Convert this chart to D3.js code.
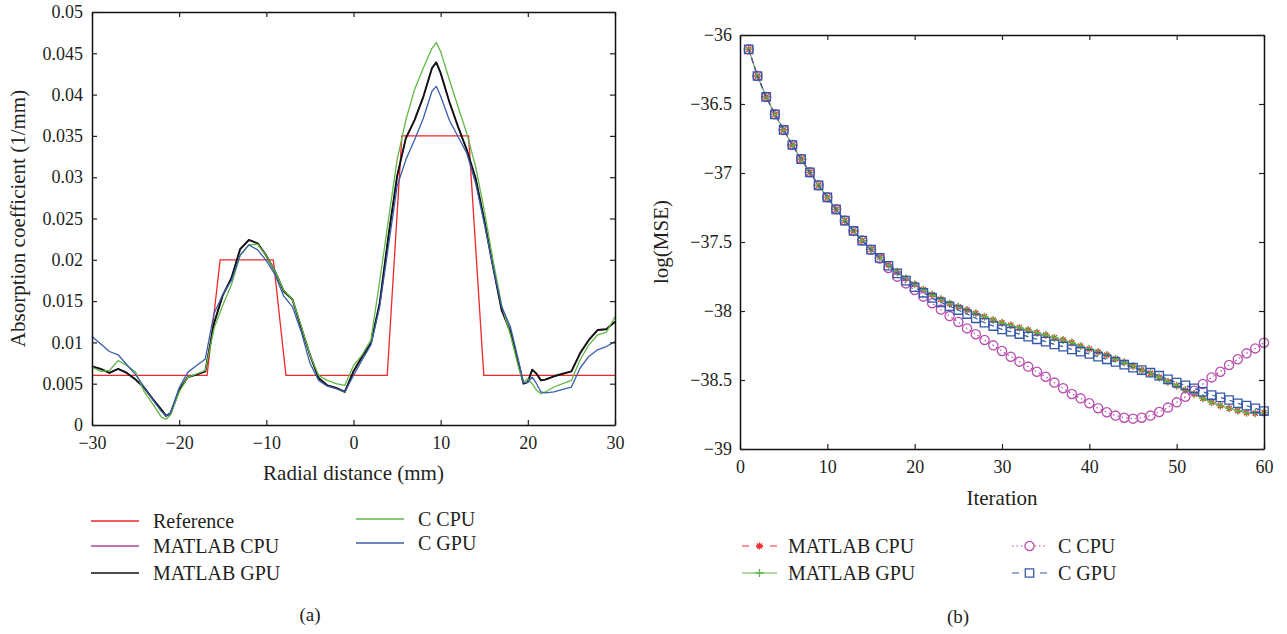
<!DOCTYPE html>
<html>
<head>
<meta charset="utf-8">
<script src="https://cdn.jsdelivr.net/npm/d3@7"></script>
<style>
    body { margin: 0; background: #fff; }
    svg text { font-family: "Liberation Serif", "Times New Roman", serif; fill: #231f20; }
</style>
</head>
<body>
<div id="figure"></div>
<script>
// ---- (a) absorption profile data ----
const radialMm = [-30, -29, -28, -27, -26, -25, -24, -23, -22, -21.5, -21, -20, -19, -18, -17, -16, -15, -14, -13, -12,
    -11, -10, -9, -8, -7, -6, -5, -4, -3, -2, -1, 0, 1, 2, 3, 4, 5, 6, 7, 8, 9, 9.5, 10, 11, 12, 13, 14, 15, 16, 17, 18,
    19, 19.5, 20, 20.5, 21, 21.5, 22, 23, 24, 25, 26, 27, 28, 29, 30];

const referenceX = [-30, -16.8, -15.3, -9.2, -7.75, 3.87, 5.55, 13.2, 14.95, 30];
const referenceY = [0.006, 0.006, 0.02, 0.02, 0.006, 0.006, 0.035, 0.035, 0.006, 0.006];

const matlabCpuA = [.0071, .0068, .0063, .0068, .0063, .0055, .0045, .0031, .0018, .0011, .0014, .0042, .0058, .0061, .0065,
    .0123, .0157, .0178, .0213, .0224, .0220, .0205, .0186, .0162, .0152, .0118, .0085, .0057, .0048, .0045, .0040, .0065,
    .0083, .0099, .0147, .0228, .0301, .0347, .0369, .0397, .0432, .0439, .0426, .0391, .0361, .0333, .0299, .0248, .0192,
    .0139, .0113, .0071, .0050, .0052, .0067, .0062, .0054, .0055, .0059, .0062, .0065, .0087, .0103, .0115, .0116, .0125];

const matlabGpuA = [.0071, .0068, .0063, .0068, .0063, .0055, .0045, .0031, .0018, .0011, .0014, .0042, .0058, .0061, .0065,
    .0123, .0157, .0178, .0213, .0224, .0220, .0205, .0186, .0162, .0152, .0118, .0085, .0057, .0048, .0045, .0040, .0065,
    .0083, .0099, .0147, .0228, .0301, .0347, .0369, .0397, .0432, .0439, .0426, .0391, .0361, .0333, .0299, .0248, .0192,
    .0139, .0113, .0071, .0050, .0052, .0067, .0062, .0054, .0055, .0059, .0062, .0065, .0087, .0103, .0115, .0116, .0125];

const cCpuA = [.0070, .0065, .0066, .0078, .0072, .0064, .0040, .0025, .0009, .0007, .0012, .0040, .0058, .0062, .0066,
    .0117, .0145, .0170, .0205, .0218, .0219, .0205, .0186, .0163, .0152, .0120, .0085, .0060, .0054, .0050, .0048, .0072,
    .0085, .0103, .0174, .0248, .0321, .0369, .0406, .0432, .0456, .0463, .0452, .0418, .0385, .0353, .0313, .0260, .0200,
    .0145, .0109, .0067, .0052, .0056, .0050, .0042, .0038, .0040, .0046, .0050, .0054, .0079, .0097, .0109, .0112, .0131];

const cGpuA = [.0107, .0098, .0089, .0085, .0073, .0061, .0046, .0030, .0016, .0011, .0014, .0045, .0064, .0072, .0080,
    .0135, .0158, .0175, .0206, .0218, .0212, .0199, .0182, .0156, .0143, .0113, .0075, .0054, .0047, .0044, .0040, .0060,
    .0079, .0097, .0143, .0216, .0289, .0321, .0345, .0371, .0404, .0410, .0398, .0369, .0349, .0329, .0293, .0244, .0192,
    .0143, .0119, .0075, .0051, .0052, .0058, .0050, .0040, .0039, .0040, .0043, .0046, .0069, .0083, .0091, .0095, .0101];

const radialTicks = [-30, -20, -10, 0, 10, 20, 30];
const absorptionTicks = [0, 0.005, 0.01, 0.015, 0.02, 0.025, 0.03, 0.035, 0.04, 0.045, 0.05];

// ---- (b) convergence data ----
const iterations = [1, 2, 3, 4, 5, 6, 7, 8, 9, 10, 11, 12, 13, 14, 15, 16, 17, 18, 19, 20, 21, 22, 23, 24, 25, 26, 27, 28, 29, 30,
    31, 32, 33, 34, 35, 36, 37, 38, 39, 40, 41, 42, 43, 44, 45, 46, 47, 48, 49, 50, 51, 52, 53, 54, 55, 56, 57, 58, 59, 60];

const matlabCpuB = [-36.104, -36.297, -36.449, -36.575, -36.688, -36.797, -36.899, -36.995, -37.089, -37.176, -37.263, -37.345,
    -37.420, -37.490, -37.553, -37.611, -37.665, -37.717, -37.764, -37.806, -37.845, -37.881, -37.915, -37.946, -37.969,
    -37.993, -38.017, -38.041, -38.065, -38.085, -38.104, -38.121, -38.138, -38.157, -38.174, -38.193, -38.210, -38.229,
    -38.254, -38.275, -38.297, -38.319, -38.346, -38.372, -38.399, -38.428, -38.452, -38.481, -38.512, -38.541, -38.573,
    -38.601, -38.633, -38.662, -38.686, -38.705, -38.722, -38.737, -38.741, -38.737];

const matlabGpuB = [-36.104, -36.297, -36.449, -36.575, -36.688, -36.797, -36.899, -36.995, -37.089, -37.176, -37.263, -37.345,
    -37.420, -37.490, -37.553, -37.611, -37.665, -37.717, -37.764, -37.806, -37.845, -37.881, -37.915, -37.946, -37.969,
    -37.993, -38.017, -38.041, -38.065, -38.085, -38.104, -38.121, -38.138, -38.157, -38.174, -38.193, -38.210, -38.229,
    -38.254, -38.275, -38.297, -38.319, -38.346, -38.372, -38.399, -38.428, -38.452, -38.481, -38.512, -38.541, -38.573,
    -38.601, -38.633, -38.662, -38.686, -38.705, -38.722, -38.737, -38.741, -38.737];

const cCpuB = [-36.104, -36.297, -36.449, -36.575, -36.688, -36.797, -36.899, -36.995, -37.089, -37.176, -37.263, -37.345,
    -37.420, -37.490, -37.557, -37.620, -37.688, -37.751, -37.800, -37.848, -37.896, -37.944, -37.990, -38.037, -38.080,
    -38.126, -38.169, -38.210, -38.249, -38.290, -38.331, -38.367, -38.403, -38.440, -38.476, -38.519, -38.560, -38.601,
    -38.633, -38.669, -38.705, -38.734, -38.758, -38.773, -38.780, -38.773, -38.758, -38.732, -38.700, -38.662, -38.621,
    -38.577, -38.529, -38.481, -38.440, -38.391, -38.350, -38.307, -38.271, -38.230];

const cGpuB = [-36.104, -36.297, -36.449, -36.575, -36.688, -36.797, -36.899, -36.995, -37.089, -37.176, -37.263, -37.345,
    -37.420, -37.490, -37.555, -37.615, -37.672, -37.727, -37.780, -37.828, -37.868, -37.905, -37.937, -37.966, -37.993,
    -38.022, -38.053, -38.085, -38.109, -38.133, -38.150, -38.167, -38.186, -38.205, -38.222, -38.242, -38.258, -38.278,
    -38.295, -38.311, -38.331, -38.350, -38.369, -38.389, -38.410, -38.428, -38.447, -38.469, -38.495, -38.519, -38.539,
    -38.560, -38.585, -38.609, -38.626, -38.645, -38.669, -38.686, -38.705, -38.725];

const iterationTicks = [0, 10, 20, 30, 40, 50, 60];
const mseTicks = [-39, -38.5, -38, -37.5, -37, -36.5, -36];

const minus = s => String(s).replace("-", "\u2212");

const svg = d3.select("#figure")
    .append("svg")
    .attr("width", 1287)
    .attr("height", 634);

// Draws a MATLAB style box: labelled bottom/left axes, bare top/right axes, ticks pointing inwards
function drawFrame(x, y, xTicks, yTicks, fmtX, fmtY, padX, padY) {
    const [x0, x1] = x.range();
    const [yBottom, yTop] = y.range();

    const axes = [
        [d3.axisBottom(x).tickValues(xTicks).tickFormat(fmtX).tickPadding(padX), `translate(0,${yBottom})`],
        [d3.axisTop(x).tickValues(xTicks).tickFormat(""), `translate(0,${yTop})`],
        [d3.axisLeft(y).tickValues(yTicks).tickFormat(fmtY).tickPadding(padY), `translate(${x0},0)`],
        [d3.axisRight(y).tickValues(yTicks).tickFormat(""), `translate(${x1},0)`]
    ];
    axes.forEach(([axis, tr]) => {
        const g = svg.append("g")
            .attr("transform", tr)
            .call(axis.tickSizeInner(-5).tickSizeOuter(0));
        g.select(".domain").attr("stroke", "#111").attr("stroke-width", 1.5);
        g.selectAll(".tick line").attr("stroke", "#222").attr("stroke-width", 1.2);
        g.selectAll("text").style("font-size", "18px");
    });
}

// Panel (a)
function renderProfileChart() {
    const x = d3.scaleLinear().domain([-30, 30]).range([92, 615]);
    const y = d3.scaleLinear().domain([0, 0.05]).range([425, 12]);

    const line = d3.line()
        .x((d, i) => x(radialMm[i]))
        .y(d => y(d));

    const refLine = d3.line()
        .x((d, i) => x(referenceX[i]))
        .y(d => y(d));

    svg.append("path")
        .attr("d", refLine(referenceY))
        .attr("fill", "none")
        .attr("stroke", "#f0262b")
        .attr("stroke-width", 1.3);

    const series = [
        { values: matlabCpuA, color: "#a9489f", width: 1.3 },
        { values: matlabGpuA, color: "#111111", width: 1.9 },
        { values: cCpuA, color: "#62b846", width: 1.3 },
        { values: cGpuA, color: "#3a5daa", width: 1.3 }
    ];

    series.forEach(s => {
        svg.append("path")
            .attr("d", line(s.values))
            .attr("fill", "none")
            .attr("stroke", s.color)
            .attr("stroke-width", s.width)
            .attr("stroke-linejoin", "round");
    });

    drawFrame(x, y, radialTicks, absorptionTicks, minus, d => d === 0 ? "0" : String(+d.toFixed(3)), 11, 9);

    svg.append("text")
        .attr("x", 353.5)
        .attr("y", 480)
        .attr("text-anchor", "middle")
        .style("font-size", "21px")
        .text("Radial distance (mm)");

    svg.append("text")
        .attr("transform", "translate(18,218.5) rotate(-90)")
        .attr("text-anchor", "middle")
        .attr("dominant-baseline", "central")
        .style("font-size", "21px")
        .text("Absorption coefficient (1/mm)");

    // legend
    const legend = [
        { label: "Reference", color: "#f0262b", width: 1.3, x: 91, y: 521 },
        { label: "MATLAB CPU", color: "#a9489f", width: 1.3, x: 91, y: 546 },
        { label: "MATLAB GPU", color: "#111111", width: 1.6, x: 91, y: 573 },
        { label: "C CPU", color: "#62b846", width: 1.3, x: 356, y: 519 },
        { label: "C GPU", color: "#3a5daa", width: 1.3, x: 356, y: 543 }
    ];
    const item = svg.selectAll(".legA")
        .data(legend)
        .enter()
        .append("g")
        .attr("class", "legA")
        .attr("transform", d => `translate(${d.x},${d.y})`);
    item.append("line")
        .attr("x1", 0).attr("x2", 48)
        .attr("stroke", d => d.color)
        .attr("stroke-width", d => d.width);
    item.append("text")
        .attr("x", 62)
        .attr("dy", "0.33em")
        .style("font-size", "20px")
        .text(d => d.label);

    svg.append("text")
        .attr("x", 310)
        .attr("y", 621)
        .attr("text-anchor", "middle")
        .style("font-size", "19px")
        .text("(a)");
}

// Marker paths for panel (b)
function asteriskPath(r) {
    const a = r * 0.7071;
    return `M${-r},0L${r},0M0,${-r}L0,${r}M${-a},${-a}L${a},${a}M${-a},${a}L${a},${-a}`;
}
function plusPath(r) {
    return `M${-r},0L${r},0M0,${-r}L0,${r}`;
}
function circlePath(r) {
    return `M${r},0A${r},${r} 0 1,1 ${-r},0A${r},${r} 0 1,1 ${r},0Z`;
}
function squarePath(h) {
    return `M${-h},${-h}L${h},${-h}L${h},${h}L${-h},${h}Z`;
}

// Panel (b)
function renderConvergenceChart() {
    const x = d3.scaleLinear().domain([0, 60]).range([740, 1264]);
    const y = d3.scaleLinear().domain([-39, -36]).range([449, 35]);

    const line = d3.line()
        .x((d, i) => x(iterations[i]))
        .y(d => y(d));

    const series = [
        { name: "MATLAB CPU", values: matlabCpuB, color: "#ef2b2d", dash: "5,4", marker: asteriskPath(3.6), fill: "none" },
        { name: "MATLAB GPU", values: matlabGpuB, color: "#5fb548", dash: null, marker: plusPath(4), fill: "none" },
        { name: "C CPU", values: cCpuB, color: "#b84fad", dash: "1.5,3", marker: circlePath(4.6), fill: "none" },
        { name: "C GPU", values: cGpuB, color: "#3558a8", dash: "5,4", marker: squarePath(4.2), fill: "none" }
    ];

    series.forEach(s => {
        svg.append("path")
            .attr("d", line(s.values))
            .attr("fill", "none")
            .attr("stroke", s.color)
            .attr("stroke-width", 1.2)
            .attr("stroke-dasharray", s.dash);

        svg.selectAll(null)
            .data(s.values)
            .enter()
            .append("path")
            .attr("transform", (d, i) => `translate(${x(iterations[i])},${y(d)})`)
            .attr("d", s.marker)
            .attr("fill", s.fill)
            .attr("stroke", s.color)
            .attr("stroke-width", 1.3);
    });

    drawFrame(x, y, iterationTicks, mseTicks, d => String(d), minus, 11, 8);

    svg.append("text")
        .attr("x", 1002)
        .attr("y", 505)
        .attr("text-anchor", "middle")
        .style("font-size", "21px")
        .text("Iteration");

    svg.append("text")
        .attr("transform", "translate(661,242) rotate(-90)")
        .attr("text-anchor", "middle")
        .attr("dominant-baseline", "central")
        .style("font-size", "21px")
        .text("log(MSE)");

    // legend
    const pos = [[742, 546], [742, 573], [1012, 546], [1012, 573]];
    const item = svg.selectAll(".legB")
        .data(series)
        .enter()
        .append("g")
        .attr("class", "legB")
        .attr("transform", (d, i) => `translate(${pos[i][0]},${pos[i][1]})`);
    item.append("line")
        .attr("x1", 0).attr("x2", 35)
        .attr("stroke", d => d.color)
        .attr("stroke-width", 1.2)
        .attr("stroke-dasharray", d => d.dash === "5,4" ? "7,7" : d.dash);
    item.append("path")
        .attr("transform", "translate(17.5,0)")
        .attr("d", d => d.marker)
        .attr("fill", "#fff")
        .attr("stroke", d => d.color)
        .attr("stroke-width", 1.3);
    item.append("text")
        .attr("x", 46)
        .attr("dy", "0.33em")
        .style("font-size", "20px")
        .text(d => d.name);

    svg.append("text")
        .attr("x", 958)
        .attr("y", 623)
        .attr("text-anchor", "middle")
        .style("font-size", "19px")
        .text("(b)");
}

renderProfileChart();
renderConvergenceChart();
</script>
</body>
</html>
